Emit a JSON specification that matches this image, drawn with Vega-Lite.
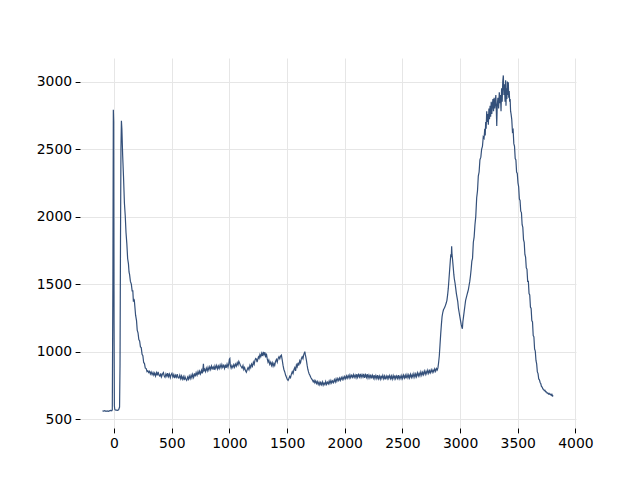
{
  "$schema": "https://vega.github.io/schema/vega-lite/v6.json",
  "width": 496,
  "height": 370,
  "autosize": {"type": "none"},
  "padding": {"left": 80, "top": 58, "right": 64, "bottom": 52},
  "background": "white",
  "config": {
    "view": {"stroke": null},
    "axis": {
      "domain": false,
      "grid": true,
      "gridColor": "#e6e6e6",
      "gridWidth": 1,
      "ticks": true,
      "tickColor": "#000000",
      "tickSize": 4.9,
      "tickWidth": 1,
      "labelFont": "DejaVu Sans",
      "labelFontSize": 13.9,
      "labelColor": "#000000",
      "labelPadding": 3.5,
      "labelFlush": false,
      "labelOverlap": false,
      "title": null
    }
  },
  "data": {"values": [
{"x":-100,"y":562},{"x":-90,"y":560},{"x":-80,"y":563},{"x":-70,"y":559},{"x":-60,"y":561},{"x":-50,"y":558},{"x":-40,"y":562},{"x":-30,"y":565},{"x":-20,"y":563},{"x":-15,"y":570},{"x":-10,"y":1500},{"x":-6,"y":2790},{"x":-3,"y":2700},{"x":0,"y":1200},{"x":3,"y":600},{"x":6,"y":575},{"x":10,"y":568},{"x":20,"y":567},{"x":30,"y":566},{"x":40,"y":570},{"x":48,"y":590},{"x":52,"y":900},{"x":56,"y":1800},{"x":60,"y":2500},{"x":64,"y":2710},{"x":68,"y":2650},{"x":75,"y":2450},{"x":82,"y":2300},{"x":90,"y":2100},{"x":97,"y":2010},{"x":104,"y":1880},{"x":111,"y":1800},{"x":118,"y":1690},{"x":125,"y":1650},{"x":130,"y":1590},{"x":135,"y":1570},{"x":142,"y":1520},{"x":150,"y":1500},{"x":157,"y":1450},{"x":163,"y":1450},{"x":168,"y":1370},{"x":172,"y":1390},{"x":176,"y":1380},{"x":180,"y":1340},{"x":187,"y":1270},{"x":195,"y":1230},{"x":201,"y":1160},{"x":208,"y":1140},{"x":215,"y":1090},{"x":222,"y":1080},{"x":229,"y":1035},{"x":236,"y":1030},{"x":243,"y":980},{"x":250,"y":970},{"x":257,"y":920},{"x":264,"y":912},{"x":271,"y":878},{"x":279,"y":875},{"x":286,"y":852},{"x":293,"y":858},{"x":300,"y":845},{"x":308,"y":855},{"x":315,"y":835},{"x":322,"y":850},{"x":330,"y":830},{"x":338,"y":846},{"x":345,"y":826},{"x":352,"y":842},{"x":360,"y":820},{"x":368,"y":845},{"x":375,"y":824},{"x":382,"y":850},{"x":390,"y":826},{"x":398,"y":818},{"x":405,"y":840},{"x":412,"y":814},{"x":420,"y":834},{"x":428,"y":845},{"x":435,"y":820},{"x":442,"y":810},{"x":450,"y":835},{"x":458,"y":818},{"x":465,"y":842},{"x":472,"y":815},{"x":480,"y":834},{"x":488,"y":808},{"x":495,"y":830},{"x":502,"y":840},{"x":510,"y":812},{"x":518,"y":830},{"x":525,"y":804},{"x":532,"y":825},{"x":540,"y":810},{"x":548,"y":834},{"x":555,"y":808},{"x":562,"y":804},{"x":570,"y":826},{"x":578,"y":800},{"x":585,"y":820},{"x":592,"y":796},{"x":600,"y":816},{"x":608,"y":790},{"x":615,"y":815},{"x":622,"y":798},{"x":630,"y":788},{"x":638,"y":812},{"x":645,"y":796},{"x":652,"y":820},{"x":660,"y":800},{"x":668,"y":826},{"x":675,"y":806},{"x":682,"y":832},{"x":690,"y":810},{"x":698,"y":840},{"x":705,"y":818},{"x":712,"y":845},{"x":720,"y":826},{"x":728,"y":852},{"x":735,"y":830},{"x":742,"y":856},{"x":750,"y":836},{"x":758,"y":862},{"x":765,"y":840},{"x":771,"y":874},{"x":775,"y":911},{"x":779,"y":860},{"x":785,"y":870},{"x":792,"y":852},{"x":800,"y":878},{"x":808,"y":858},{"x":815,"y":884},{"x":822,"y":864},{"x":830,"y":888},{"x":838,"y":868},{"x":845,"y":894},{"x":852,"y":874},{"x":860,"y":888},{"x":868,"y":866},{"x":875,"y":895},{"x":882,"y":876},{"x":890,"y":898},{"x":898,"y":872},{"x":905,"y":894},{"x":912,"y":876},{"x":920,"y":902},{"x":928,"y":880},{"x":935,"y":904},{"x":942,"y":884},{"x":950,"y":898},{"x":958,"y":876},{"x":965,"y":904},{"x":972,"y":880},{"x":980,"y":908},{"x":988,"y":886},{"x":995,"y":912},{"x":1000,"y":945},{"x":1004,"y":950},{"x":1008,"y":900},{"x":1015,"y":878},{"x":1022,"y":898},{"x":1030,"y":882},{"x":1038,"y":904},{"x":1045,"y":886},{"x":1052,"y":908},{"x":1060,"y":892},{"x":1068,"y":918},{"x":1075,"y":902},{"x":1082,"y":928},{"x":1089,"y":915},{"x":1095,"y":900},{"x":1102,"y":890},{"x":1110,"y":878},{"x":1118,"y":898},{"x":1125,"y":868},{"x":1132,"y":882},{"x":1140,"y":858},{"x":1147,"y":848},{"x":1155,"y":868},{"x":1162,"y":882},{"x":1170,"y":866},{"x":1178,"y":898},{"x":1185,"y":882},{"x":1192,"y":908},{"x":1200,"y":892},{"x":1208,"y":922},{"x":1215,"y":906},{"x":1222,"y":938},{"x":1228,"y":950},{"x":1234,"y":945},{"x":1240,"y":922},{"x":1246,"y":942},{"x":1252,"y":962},{"x":1258,"y":952},{"x":1265,"y":978},{"x":1272,"y":962},{"x":1280,"y":988},{"x":1287,"y":968},{"x":1294,"y":998},{"x":1300,"y":978},{"x":1308,"y":996},{"x":1314,"y":958},{"x":1321,"y":986},{"x":1328,"y":948},{"x":1335,"y":922},{"x":1342,"y":938},{"x":1350,"y":906},{"x":1358,"y":922},{"x":1365,"y":898},{"x":1372,"y":918},{"x":1379,"y":892},{"x":1386,"y":912},{"x":1393,"y":898},{"x":1400,"y":928},{"x":1408,"y":942},{"x":1415,"y":922},{"x":1422,"y":948},{"x":1430,"y":962},{"x":1437,"y":948},{"x":1444,"y":968},{"x":1451,"y":975},{"x":1458,"y":940},{"x":1465,"y":900},{"x":1472,"y":870},{"x":1480,"y":850},{"x":1488,"y":825},{"x":1495,"y":810},{"x":1502,"y":795},{"x":1509,"y":788},{"x":1516,"y":802},{"x":1523,"y":818},{"x":1530,"y":808},{"x":1537,"y":832},{"x":1545,"y":852},{"x":1552,"y":838},{"x":1560,"y":868},{"x":1567,"y":882},{"x":1574,"y":858},{"x":1581,"y":902},{"x":1588,"y":888},{"x":1595,"y":918},{"x":1602,"y":898},{"x":1610,"y":932},{"x":1617,"y":918},{"x":1624,"y":948},{"x":1631,"y":962},{"x":1638,"y":948},{"x":1645,"y":978},{"x":1650,"y":990},{"x":1654,"y":1000},{"x":1658,"y":980},{"x":1663,"y":960},{"x":1668,"y":935},{"x":1674,"y":900},{"x":1680,"y":870},{"x":1686,"y":850},{"x":1692,"y":835},{"x":1698,"y":825},{"x":1705,"y":810},{"x":1712,"y":800},{"x":1720,"y":790},{"x":1727,"y":776},{"x":1734,"y":788},{"x":1741,"y":770},{"x":1748,"y":784},{"x":1755,"y":765},{"x":1762,"y":779},{"x":1770,"y":758},{"x":1777,"y":774},{"x":1784,"y":755},{"x":1791,"y":772},{"x":1798,"y":756},{"x":1806,"y":776},{"x":1813,"y":752},{"x":1820,"y":769},{"x":1828,"y":756},{"x":1835,"y":779},{"x":1842,"y":758},{"x":1850,"y":774},{"x":1858,"y":761},{"x":1865,"y":782},{"x":1872,"y":764},{"x":1880,"y":786},{"x":1887,"y":768},{"x":1894,"y":784},{"x":1902,"y":771},{"x":1910,"y":794},{"x":1918,"y":776},{"x":1925,"y":799},{"x":1932,"y":781},{"x":1940,"y":802},{"x":1948,"y":786},{"x":1955,"y":804},{"x":1962,"y":788},{"x":1970,"y":809},{"x":1978,"y":794},{"x":1985,"y":812},{"x":1992,"y":796},{"x":2000,"y":816},{"x":2008,"y":800},{"x":2015,"y":820},{"x":2022,"y":803},{"x":2030,"y":823},{"x":2038,"y":805},{"x":2045,"y":827},{"x":2052,"y":807},{"x":2060,"y":825},{"x":2068,"y":810},{"x":2075,"y":830},{"x":2082,"y":810},{"x":2090,"y":827},{"x":2098,"y":807},{"x":2105,"y":833},{"x":2112,"y":810},{"x":2120,"y":830},{"x":2128,"y":812},{"x":2135,"y":835},{"x":2142,"y":810},{"x":2150,"y":830},{"x":2158,"y":812},{"x":2165,"y":835},{"x":2172,"y":806},{"x":2180,"y":830},{"x":2188,"y":810},{"x":2195,"y":833},{"x":2202,"y":805},{"x":2210,"y":827},{"x":2218,"y":806},{"x":2225,"y":830},{"x":2232,"y":802},{"x":2240,"y":825},{"x":2248,"y":804},{"x":2255,"y":827},{"x":2262,"y":800},{"x":2270,"y":823},{"x":2278,"y":802},{"x":2285,"y":827},{"x":2292,"y":800},{"x":2300,"y":820},{"x":2308,"y":797},{"x":2315,"y":823},{"x":2322,"y":802},{"x":2330,"y":825},{"x":2338,"y":800},{"x":2345,"y":820},{"x":2352,"y":795},{"x":2360,"y":820},{"x":2368,"y":800},{"x":2375,"y":825},{"x":2382,"y":802},{"x":2390,"y":823},{"x":2398,"y":800},{"x":2405,"y":820},{"x":2412,"y":797},{"x":2420,"y":823},{"x":2428,"y":800},{"x":2435,"y":825},{"x":2442,"y":800},{"x":2450,"y":820},{"x":2458,"y":802},{"x":2465,"y":827},{"x":2472,"y":800},{"x":2480,"y":820},{"x":2488,"y":800},{"x":2495,"y":823},{"x":2502,"y":802},{"x":2510,"y":827},{"x":2518,"y":805},{"x":2525,"y":825},{"x":2532,"y":802},{"x":2540,"y":830},{"x":2548,"y":806},{"x":2555,"y":827},{"x":2562,"y":806},{"x":2570,"y":833},{"x":2578,"y":810},{"x":2585,"y":830},{"x":2592,"y":810},{"x":2600,"y":837},{"x":2608,"y":812},{"x":2615,"y":835},{"x":2622,"y":815},{"x":2630,"y":843},{"x":2638,"y":820},{"x":2645,"y":840},{"x":2652,"y":822},{"x":2660,"y":850},{"x":2668,"y":825},{"x":2675,"y":847},{"x":2682,"y":830},{"x":2690,"y":857},{"x":2698,"y":833},{"x":2705,"y":855},{"x":2712,"y":837},{"x":2720,"y":863},{"x":2728,"y":840},{"x":2735,"y":860},{"x":2742,"y":843},{"x":2750,"y":867},{"x":2758,"y":847},{"x":2765,"y":865},{"x":2772,"y":850},{"x":2780,"y":873},{"x":2788,"y":855},{"x":2795,"y":875},{"x":2802,"y":864},{"x":2808,"y":880},{"x":2814,"y":920},{"x":2820,"y":970},{"x":2826,"y":1050},{"x":2832,"y":1130},{"x":2838,"y":1200},{"x":2844,"y":1260},{"x":2850,"y":1290},{"x":2856,"y":1310},{"x":2862,"y":1320},{"x":2868,"y":1330},{"x":2874,"y":1345},{"x":2880,"y":1360},{"x":2886,"y":1380},{"x":2892,"y":1420},{"x":2898,"y":1470},{"x":2904,"y":1540},{"x":2910,"y":1610},{"x":2916,"y":1680},{"x":2920,"y":1720},{"x":2924,"y":1700},{"x":2927,"y":1780},{"x":2930,"y":1720},{"x":2934,"y":1690},{"x":2938,"y":1650},{"x":2942,"y":1610},{"x":2946,"y":1570},{"x":2950,"y":1540},{"x":2956,"y":1510},{"x":2962,"y":1470},{"x":2968,"y":1430},{"x":2974,"y":1400},{"x":2980,"y":1370},{"x":2986,"y":1320},{"x":2992,"y":1290},{"x":2998,"y":1260},{"x":3004,"y":1230},{"x":3010,"y":1200},{"x":3016,"y":1180},{"x":3020,"y":1170},{"x":3024,"y":1220},{"x":3030,"y":1260},{"x":3036,"y":1300},{"x":3042,"y":1340},{"x":3048,"y":1380},{"x":3054,"y":1400},{"x":3060,"y":1420},{"x":3066,"y":1440},{"x":3072,"y":1460},{"x":3078,"y":1490},{"x":3084,"y":1520},{"x":3090,"y":1560},{"x":3096,"y":1610},{"x":3102,"y":1670},{"x":3108,"y":1690},{"x":3115,"y":1810},{"x":3122,"y":1850},{"x":3129,"y":1940},{"x":3136,"y":2000},{"x":3144,"y":2140},{"x":3151,"y":2190},{"x":3158,"y":2300},{"x":3165,"y":2330},{"x":3172,"y":2420},{"x":3180,"y":2440},{"x":3187,"y":2500},{"x":3194,"y":2520},{"x":3201,"y":2590},{"x":3208,"y":2580},{"x":3214,"y":2650},{"x":3218,"y":2600},{"x":3222,"y":2700},{"x":3226,"y":2650},{"x":3231,"y":2780},{"x":3236,"y":2700},{"x":3240,"y":2760},{"x":3245,"y":2680},{"x":3250,"y":2800},{"x":3255,"y":2720},{"x":3260,"y":2820},{"x":3265,"y":2740},{"x":3270,"y":2850},{"x":3275,"y":2760},{"x":3280,"y":2830},{"x":3285,"y":2870},{"x":3290,"y":2780},{"x":3295,"y":2880},{"x":3300,"y":2800},{"x":3305,"y":2850},{"x":3310,"y":2900},{"x":3315,"y":2760},{"x":3318,"y":2670},{"x":3322,"y":2820},{"x":3328,"y":2880},{"x":3334,"y":2800},{"x":3340,"y":2920},{"x":3346,"y":2840},{"x":3350,"y":2900},{"x":3355,"y":2780},{"x":3360,"y":2950},{"x":3365,"y":2850},{"x":3370,"y":3000},{"x":3375,"y":3045},{"x":3380,"y":2900},{"x":3385,"y":2980},{"x":3390,"y":2850},{"x":3395,"y":3010},{"x":3398,"y":2820},{"x":3402,"y":2950},{"x":3406,"y":2870},{"x":3410,"y":3000},{"x":3414,"y":2900},{"x":3418,"y":2995},{"x":3422,"y":2880},{"x":3426,"y":2930},{"x":3430,"y":2850},{"x":3434,"y":2870},{"x":3438,"y":2780},{"x":3442,"y":2760},{"x":3448,"y":2720},{"x":3454,"y":2630},{"x":3460,"y":2640},{"x":3466,"y":2540},{"x":3472,"y":2520},{"x":3478,"y":2430},{"x":3484,"y":2420},{"x":3490,"y":2330},{"x":3496,"y":2320},{"x":3502,"y":2250},{"x":3508,"y":2220},{"x":3514,"y":2130},{"x":3520,"y":2120},{"x":3526,"y":2040},{"x":3532,"y":2030},{"x":3538,"y":1940},{"x":3544,"y":1920},{"x":3550,"y":1830},{"x":3556,"y":1810},{"x":3562,"y":1720},{"x":3568,"y":1700},{"x":3574,"y":1620},{"x":3580,"y":1610},{"x":3586,"y":1520},{"x":3592,"y":1520},{"x":3598,"y":1430},{"x":3604,"y":1420},{"x":3610,"y":1330},{"x":3616,"y":1320},{"x":3622,"y":1230},{"x":3628,"y":1220},{"x":3634,"y":1120},{"x":3640,"y":1110},{"x":3646,"y":1020},{"x":3652,"y":1005},{"x":3658,"y":935},{"x":3664,"y":910},{"x":3670,"y":850},{"x":3676,"y":838},{"x":3682,"y":798},{"x":3688,"y":792},{"x":3694,"y":772},{"x":3700,"y":762},{"x":3706,"y":742},{"x":3712,"y":738},{"x":3718,"y":724},{"x":3724,"y":722},{"x":3730,"y":711},{"x":3736,"y":714},{"x":3742,"y":702},{"x":3748,"y":703},{"x":3754,"y":694},{"x":3760,"y":695},{"x":3766,"y":686},{"x":3772,"y":691},{"x":3778,"y":684},{"x":3784,"y":685},{"x":3790,"y":676},{"x":3796,"y":684},{"x":3802,"y":672},{"x":3808,"y":676}
  ]},
  "mark": {"type": "line", "color": "#34507a", "strokeWidth": 1.2, "clip": true},
  "encoding": {
    "x": {
      "field": "x", "type": "quantitative",
      "scale": {"domain": [-295, 4005], "nice": false, "zero": false},
      "axis": {"values": [0, 500, 1000, 1500, 2000, 2500, 3000, 3500, 4000], "format": "d"}
    },
    "y": {
      "field": "y", "type": "quantitative",
      "scale": {"domain": [435, 3174], "nice": false, "zero": false},
      "axis": {"values": [500, 1000, 1500, 2000, 2500, 3000], "format": "d"}
    }
  }
}
